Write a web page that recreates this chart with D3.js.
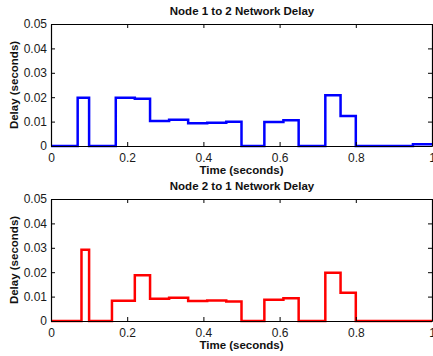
<!DOCTYPE html>
<html>
<head>
<meta charset="utf-8">
<script src="https://cdn.jsdelivr.net/npm/d3@7"></script>
<style>
  body { margin: 0; background: #fff; }
  svg { display: block; font-family: "Liberation Sans", Arial, sans-serif; }
  .tick text { font-size: 12px; fill: #1a1a1a; }
  .title, .label { font-weight: bold; font-size: 11.5px; fill: #111; }
</style>
</head>
<body>
<div id="chart"></div>
<script>
// step times (s) where the delay value changes, and the delay held from that time on
const times12 = [0, 0.07, 0.10, 0.17, 0.22, 0.26, 0.31, 0.36, 0.41, 0.46, 0.50, 0.56, 0.61, 0.65, 0.72, 0.76, 0.80, 0.95, 1.0];
const delay12 = [0, 0.0198, 0, 0.0198, 0.0194, 0.0102, 0.0108, 0.0093, 0.0095, 0.0099, 0, 0.0098, 0.0106, 0, 0.0208, 0.0123, 0, 0.0007, 0.0007];

const times21 = [0, 0.08, 0.10, 0.16, 0.22, 0.26, 0.31, 0.36, 0.41, 0.46, 0.50, 0.56, 0.61, 0.65, 0.72, 0.76, 0.80, 1.0];
const delay21 = [0, 0.0292, 0, 0.0083, 0.0187, 0.0091, 0.0095, 0.0082, 0.0084, 0.0080, 0, 0.0087, 0.0093, 0, 0.0198, 0.0116, 0, 0];

const xTicks = [0, 0.2, 0.4, 0.6, 0.8, 1];
const yTicks = [0, 0.01, 0.02, 0.03, 0.04, 0.05];

const panels = [
  { title: 'Node 1 to 2 Network Delay', t: times12, d: delay12, color: '#0000ff', top: 24 },
  { title: 'Node 2 to 1 Network Delay', t: times21, d: delay21, color: '#ff0000', top: 199 }
];

const W = 433, H = 356;
const left = 51, right = 432, plotH = 122;

const svg = d3.select('#chart').append('svg')
  .attr('width', W)
  .attr('height', H);

const x = d3.scaleLinear().domain([0, 1]).range([left, right]);
const fmt = d => d === 0 ? '0' : String(d);

panels.forEach(p => {
  const y = d3.scaleLinear().domain([0, 0.05]).range([p.top + plotH, p.top]);
  const g = svg.append('g');

  // data line
  const pts = p.t.map((t, i) => [t, p.d[i]]);
  const line = d3.line()
    .x(d => x(d[0]))
    .y(d => y(d[1]))
    .curve(d3.curveStepAfter);

  g.append('path')
    .datum(pts)
    .attr('fill', 'none')
    .attr('stroke', p.color)
    .attr('stroke-width', 2.5)
    .attr('d', line);

  // axes, ticks inward like matlab
  const bottomAx = g.append('g')
    .attr('transform', `translate(0,${p.top + plotH})`)
    .call(d3.axisBottom(x).tickValues(xTicks).tickFormat(fmt).tickSizeInner(-4).tickSizeOuter(0).tickPadding(7));
  const leftAx = g.append('g')
    .attr('transform', `translate(${left},0)`)
    .call(d3.axisLeft(y).tickValues(yTicks).tickFormat(fmt).tickSizeInner(-4).tickSizeOuter(0).tickPadding(4));
  const topAx = g.append('g')
    .attr('transform', `translate(0,${p.top})`)
    .call(d3.axisTop(x).tickValues(xTicks).tickFormat('').tickSizeInner(-4).tickSizeOuter(0));
  const rightAx = g.append('g')
    .attr('transform', `translate(${right},0)`)
    .call(d3.axisRight(y).tickValues(yTicks).tickFormat('').tickSizeInner(-4).tickSizeOuter(0));

  [bottomAx, leftAx, topAx, rightAx].forEach(a => {
    a.select('.domain').attr('stroke', '#000').attr('stroke-width', 1.2);
    a.selectAll('.tick line').attr('stroke', '#000');
    a.attr('font-family', null).attr('font-size', null);
  });

  g.append('text')
    .attr('class', 'title')
    .attr('x', (left + right) / 2 + 0.5)
    .attr('y', p.top - 9)
    .attr('text-anchor', 'middle')
    .text(p.title);

  g.append('text')
    .attr('class', 'label')
    .attr('x', (left + right) / 2)
    .attr('y', p.top + plotH + 28)
    .attr('text-anchor', 'middle')
    .text('Time (seconds)');

  g.append('text')
    .attr('class', 'label')
    .attr('transform', `translate(18,${p.top + plotH / 2}) rotate(-90)`)
    .attr('text-anchor', 'middle')
    .text('Delay (seconds)');
});
</script>
</body>
</html>
